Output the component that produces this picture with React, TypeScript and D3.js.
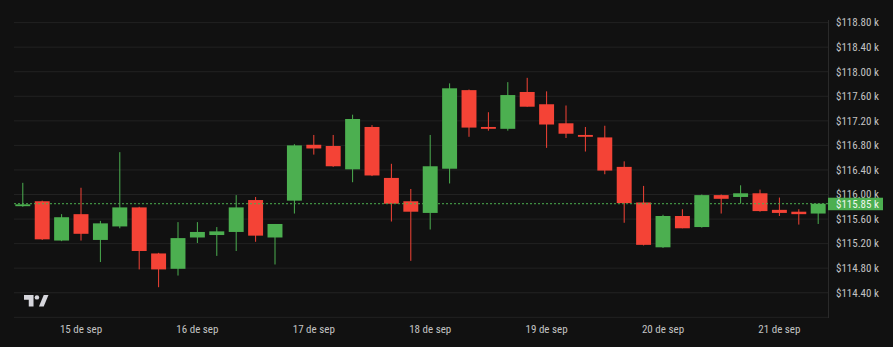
import React from "react";
import * as d3 from "d3";

// 4-hour candles, 14 Sep 12:00 → 21 Sep 08:00 (price in thousands USD)
const OPEN = [115.81, 115.89, 115.25, 115.68, 115.26, 115.48, 115.79, 115.04, 114.79, 115.30, 115.34, 115.39, 115.91, 115.30, 115.90, 116.81, 116.79, 116.41, 117.10, 116.27, 115.89, 115.70, 116.42, 117.70, 117.10, 117.07, 117.67, 117.47, 117.16, 116.97, 116.93, 116.45, 115.87, 115.14, 115.65, 115.47, 115.99, 115.96, 116.02, 115.75, 115.72, 115.69];
const HIGH = [116.19, 115.90, 115.68, 116.11, 115.57, 116.69, 115.80, 115.05, 115.55, 115.55, 115.47, 115.99, 115.96, 115.52, 116.82, 116.97, 116.97, 117.30, 117.13, 116.50, 116.09, 116.97, 117.81, 117.71, 117.34, 117.83, 117.90, 117.68, 117.45, 117.10, 117.12, 116.54, 116.14, 115.67, 115.76, 116.00, 116.00, 116.15, 116.08, 115.95, 115.76, 115.85];
const LOW = [115.80, 115.26, 115.24, 115.25, 114.90, 115.45, 114.78, 114.49, 114.68, 115.21, 115.00, 115.08, 115.23, 114.86, 115.69, 116.65, 116.45, 116.20, 116.30, 115.56, 114.92, 115.43, 116.18, 116.94, 117.04, 117.04, 117.43, 116.76, 116.92, 116.70, 116.33, 115.54, 115.17, 115.13, 115.45, 115.46, 115.69, 115.85, 115.72, 115.65, 115.51, 115.52];
const CLOSE = [115.84, 115.27, 115.63, 115.36, 115.53, 115.79, 115.08, 114.78, 115.29, 115.39, 115.40, 115.79, 115.33, 115.52, 116.80, 116.75, 116.46, 117.23, 116.31, 115.85, 115.72, 116.46, 117.73, 117.09, 117.07, 117.62, 117.43, 117.14, 116.99, 116.94, 116.39, 115.86, 115.18, 115.65, 115.45, 115.99, 115.93, 116.02, 115.73, 115.70, 115.68, 115.85];

const START = new Date(2025, 8, 14, 12);
const TIMES = d3.timeHour.every(4)!.range(START, new Date(2025, 8, 21, 12));

const Y_TICKS = [114.4, 114.8, 115.2, 115.6, 116.0, 116.4, 116.8, 117.2, 117.6, 118.0, 118.4, 118.8];
const GRID_TICKS = [114.0, ...Y_TICKS];
const X_TICKS = [15, 16, 17, 18, 19, 20, 21].map((d) => new Date(2025, 8, d));
const MONTHS_ES = ["ene", "feb", "mar", "abr", "may", "jun", "jul", "ago", "sep", "oct", "nov", "dic"];
const LAST_PRICE = 115.85;

const W = 893;
const H = 347;
const PANE_L = 14;
const PANE_R = 828;
const UP = "#4caf50";
const DOWN = "#f44336";
const FONT = "'Liberation Sans Narrow', 'Roboto Condensed', Roboto, sans-serif";

export default function App() {
  const x = d3
    .scaleTime()
    .domain([new Date(2025, 8, 15), new Date(2025, 8, 21)])
    .range([81, 779.4]);
  const y = d3.scaleLinear().domain([114.0, 118.8]).range([317.3, 22.6]);
  const step = x(new Date(2025, 8, 15, 4)) - x(new Date(2025, 8, 15));
  const bw = step * 0.77;
  const fmtPrice = (v: number) => `$${v.toFixed(2)} k`;
  const fmtDay = (d: Date) => `${d.getDate()} de ${MONTHS_ES[d.getMonth()]}`;
  const yl = y(LAST_PRICE);

  return (
    <div style={{ position: "absolute", left: 0, top: 0, width: W, height: H }}>
      <svg width={W} height={H} style={{ display: "block" }}>
        <rect x={0} y={0} width={W} height={H} fill="#111111" />
        {GRID_TICKS.map((t) => (
          <line key={t} x1={PANE_L} x2={PANE_R} y1={y(t)} y2={y(t)} stroke="#222222" strokeWidth={1} />
        ))}
        <line x1={PANE_R + 0.5} x2={PANE_R + 0.5} y1={20} y2={318} stroke="#2a2a2a" strokeWidth={1} />
        {TIMES.map((t, i) => {
          const cx = x(t);
          const o = OPEN[i];
          const c = CLOSE[i];
          const col = c >= o ? UP : DOWN;
          const top = y(Math.max(o, c));
          const bot = y(Math.min(o, c));
          return (
            <g key={i}>
              <line x1={cx} x2={cx} y1={y(HIGH[i])} y2={y(LOW[i])} stroke={col} strokeWidth={1} />
              <rect x={cx - bw / 2} y={top} width={bw} height={Math.max(1, bot - top)} fill={col} />
            </g>
          );
        })}
        <line x1={PANE_L} x2={PANE_R} y1={yl} y2={yl} stroke={UP} strokeWidth={1} strokeDasharray="2 2" />
        {Y_TICKS.map((t) => (
          <text key={t} x={836} y={y(t)} dy="0.35em" fill="#c3c3c3" fontSize={11} fontFamily={FONT}>
            {fmtPrice(t)}
          </text>
        ))}
        <rect x={PANE_R} y={yl - 6} width={55} height={12.5} fill={UP} />
        <text x={836} y={yl} dy="0.35em" fill="#eef7ee" fontSize={11} fontFamily={FONT}>
          {fmtPrice(LAST_PRICE)}
        </text>
        {X_TICKS.map((d) => (
          <text key={+d} x={x(d)} y={329} dy="0.35em" textAnchor="middle" fill="#c3c3c3" fontSize={11} fontFamily={FONT}>
            {fmtDay(d)}
          </text>
        ))}
        <g transform="translate(24,295) scale(0.68)" fill="#d6d6dc">
          <path d="M0 0H14V17H7V7H0Z" />
          <circle cx={19} cy={3.5} r={3.3} />
          <path d="M22 17L29 0H36L29 17Z" />
        </g>
      </svg>
    </div>
  );
}
